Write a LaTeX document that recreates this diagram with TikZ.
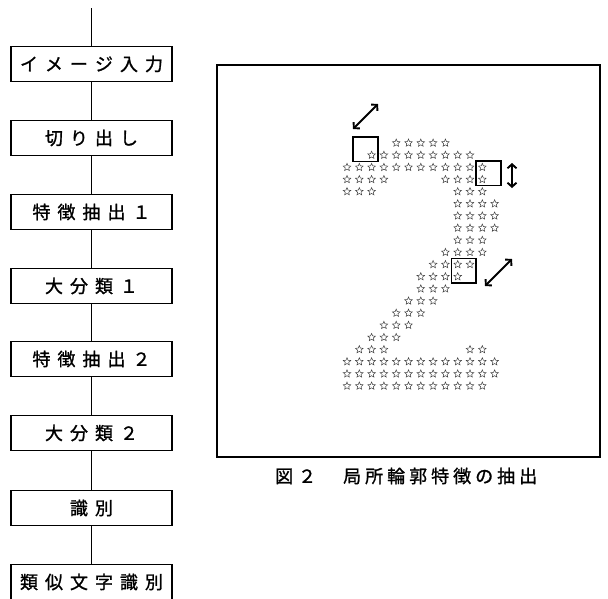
\documentclass[tikz,border=0pt]{standalone}
\usepackage{fontspec}
\newfontfamily\jpfont[FakeBold=1.2]{Noto Sans CJK JP}
\usetikzlibrary{shapes.geometric,arrows.meta}
\newcommand\gsp{\hspace{7pt}}
\newcommand\csp{\hspace{4pt}}
\begin{document}
\begin{tikzpicture}[x=1pt,y=-1pt,
  flowbox/.style={draw, line width=1.2pt, minimum width=161pt, minimum height=35pt, inner sep=0pt, font=\jpfont\fontsize{18}{18}\selectfont},
  link/.style={line width=1.2pt},
  starpt/.style={star, star points=5, star point ratio=2.2, minimum size=8pt, inner sep=0pt, draw=black!75, line width=0.5pt},
  cellbox/.style={draw, line width=1.5pt, minimum size=24.6pt, inner sep=0pt},
  dblarrow/.style={line width=1.9pt, {Straight Barb[length=4pt,width=9pt]}-{Straight Barb[length=4pt,width=9pt]}},
  framebox/.style={draw, line width=2.2pt, minimum width=383pt, minimum height=392pt, inner sep=0pt},
  captext/.style={font=\jpfont\fontsize{18}{18}\selectfont, inner sep=0pt, anchor=west}
]
\useasboundingbox (0,0) rectangle (608,598);
\clip (0,0) rectangle (608,598);

% flowchart
\coordinate (top) at (91.5,8);
\node[flowbox] (b1) at (91.5,64)  {イ\gsp メ\gsp ー\gsp ジ\gsp 入\gsp 力};
\node[flowbox] (b2) at (91.5,138) {切\gsp り\gsp 出\gsp し};
\node[flowbox] (b3) at (91.5,212) {特\gsp 徴\gsp 抽\gsp 出\gsp １};
\node[flowbox] (b4) at (91.5,286) {大\gsp 分\gsp 類\gsp １};
\node[flowbox] (b5) at (91.5,359) {特\gsp 徴\gsp 抽\gsp 出\gsp ２};
\node[flowbox] (b6) at (91.5,433) {大\gsp 分\gsp 類\gsp ２};
\node[flowbox] (b7) at (91.5,508) {識\gsp 別};
\node[flowbox] (b8) at (91.5,582) {類\gsp 似\gsp 文\gsp 字\gsp 識\gsp 別};
\draw[link] (top) -- (b1);
\draw[link] (b1) -- (b2);
\draw[link] (b2) -- (b3);
\draw[link] (b3) -- (b4);
\draw[link] (b4) -- (b5);
\draw[link] (b5) -- (b6);
\draw[link] (b6) -- (b7);
\draw[link] (b7) -- (b8);

% figure frame
\node[framebox] (frame) at (408.5,261) {};

% star pattern of the character "2"
\foreach \r/\a/\b in {1/4/8, 2/2/10, 3/0/11, 4/0/3, 4/8/11, 5/0/2, 5/9/11, 6/9/12, 7/9/12, 8/9/12, 9/9/11, 10/8/11, 11/7/10, 12/6/9, 13/6/8, 14/5/7, 15/4/6, 16/3/5, 17/2/4, 18/1/3, 18/10/11, 19/0/12, 20/0/12, 21/0/11}
  \foreach \c in {\a,...,\b}
    \node[starpt] (s-\r-\c) at ({347+\c*12.3},{143+(\r-1)*12.15}) {};

% local windows
\node[cellbox] (wa) at (365.45,149.1) {};
\node[cellbox] (wb) at (488.45,173.4) {};
\node[cellbox] (wc) at (463.85,270.6) {};

% arrows
\coordinate (a1s) at (353,129);
\coordinate (a1e) at (378,104);
\coordinate (a2s) at (512,163);
\coordinate (a2e) at (512,188);
\coordinate (a3s) at (485,286);
\coordinate (a3e) at (512,259);
\draw[dblarrow] (a1s) -- (a1e);
\draw[dblarrow] (a2s) -- (a2e);
\draw[dblarrow] (a3s) -- (a3e);

% caption
\node[captext] (cap) at (275,476) {図\hspace{5pt}２\hspace{27pt}局\csp 所\csp 輪\csp 郭\csp 特\csp 徴\csp の\csp 抽\csp 出};
\end{tikzpicture}
\end{document}
